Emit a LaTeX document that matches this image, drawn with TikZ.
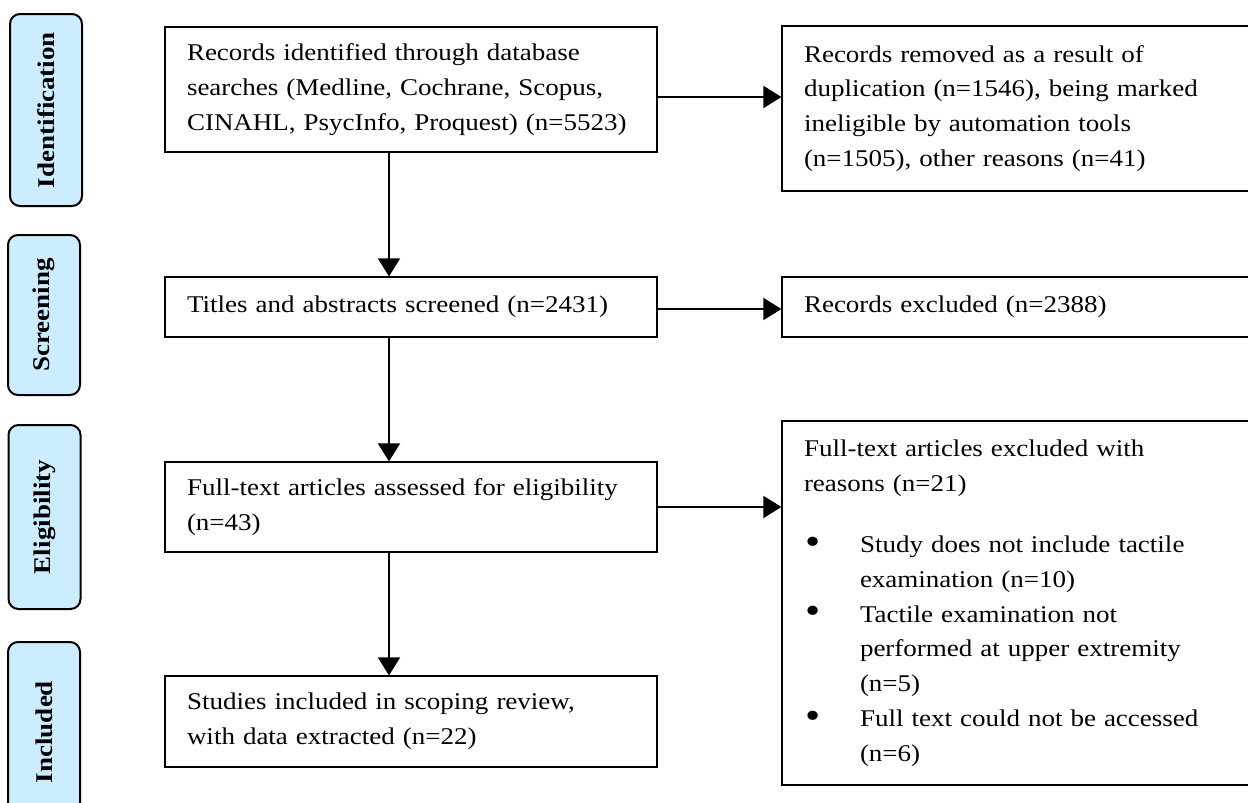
\documentclass[tikz,border=0pt]{standalone}
\usepackage{fontspec}
\usepackage{graphicx}
\setmainfont[FakeStretch=1.125]{Liberation Serif}
\usetikzlibrary{arrows.meta}
\definecolor{stageblue}{RGB}{204,236,255}
\newcommand{\bulletline}{\par\noindent\hangindent=28pt\hangafter=1\makebox[28pt][l]{\hspace{0.5pt}\raisebox{-0.9pt}{\scalebox{1.6}{\textbullet}}}}

\begin{document}
\begin{tikzpicture}[x=0.5pt, y=-0.5pt,
  box/.style={draw, line width=0.6pt, inner xsep=11pt, inner ysep=0pt, align=left, font=\fontsize{12pt}{17.4pt}\selectfont},
  lbox/.style={box, text width=224pt},
  rbox/.style={box, text width=232pt},
  stage/.style={draw, line width=1pt, rounded corners=5pt, fill=stageblue, rotate=90, minimum height=36pt, inner sep=0pt, font=\bfseries\fontsize{12pt}{16pt}\selectfont},
  arr/.style={line width=0.9pt, -{Triangle[length=9pt,width=11pt]}}]
  \useasboundingbox (0,0) rectangle (1248,803);
  \clip (0,0) rectangle (1248,803);
  % stages
  \node [stage, minimum width=96pt] (sid) at (46,110) {Identification};
  \node [stage, minimum width=80pt] (ssc) at (44,315) {Screening};
  \node [stage, minimum width=92pt] (sel) at (44.5,517) {Eligibility};
  \node [stage, minimum width=90pt] (sin) at (44,732) {Included};
  % main column
  \node [lbox, minimum height=62.5pt] (rec) at (411,89.5) {Records identified through database\\ searches (Medline, Cochrane, Scopus,\\ CINAHL, PsycInfo, Proquest) (n=5523)};
  \node [lbox, minimum height=30pt] (scr) at (411,307) {Titles and abstracts screened (n=2431)};
  \node [lbox, minimum height=45pt] (full) at (411,507) {Full-text articles assessed for eligibility\\ (n=43)};
  \node [lbox, minimum height=45.5pt] (incl) at (411,721.5) {Studies included in scoping review,\\ with data extracted (n=22)};
  % exclusions
  \node [rbox, minimum height=82.5pt] (removed) at (1036,108.5) {Records removed as a result of\\ duplication (n=1546), being marked\\ ineligible by automation tools\\ (n=1505), other reasons (n=41)};
  \node [rbox, minimum height=30pt] (excl) at (1036,307) {Records excluded (n=2388)};
  \node [rbox, minimum height=182pt] (fexcl) at (1036,603) {Full-text articles excluded with\newline reasons (n=21)\par\vspace{13.25pt}
    \bulletline Study does not include tactile\newline examination (n=10)
    \bulletline Tactile examination not\newline performed at upper extremity\newline (n=5)
    \bulletline Full text could not be accessed\newline (n=6)\par};
  % connectors
  \coordinate (spine) at (389,0);
  \coordinate (row1) at (0,97);
  \coordinate (row2) at (0,309);
  \coordinate (row3) at (0,507);
  \draw [arr] (rec.south -| spine) -- (scr.north -| spine);
  \draw [arr] (scr.south -| spine) -- (full.north -| spine);
  \draw [arr] (full.south -| spine) -- (incl.north -| spine);
  \draw [arr] (rec.east |- row1) -- (removed.west |- row1);
  \draw [arr] (scr.east |- row2) -- (excl.west |- row2);
  \draw [arr] (full.east |- row3) -- (fexcl.west |- row3);
\end{tikzpicture}
\end{document}
